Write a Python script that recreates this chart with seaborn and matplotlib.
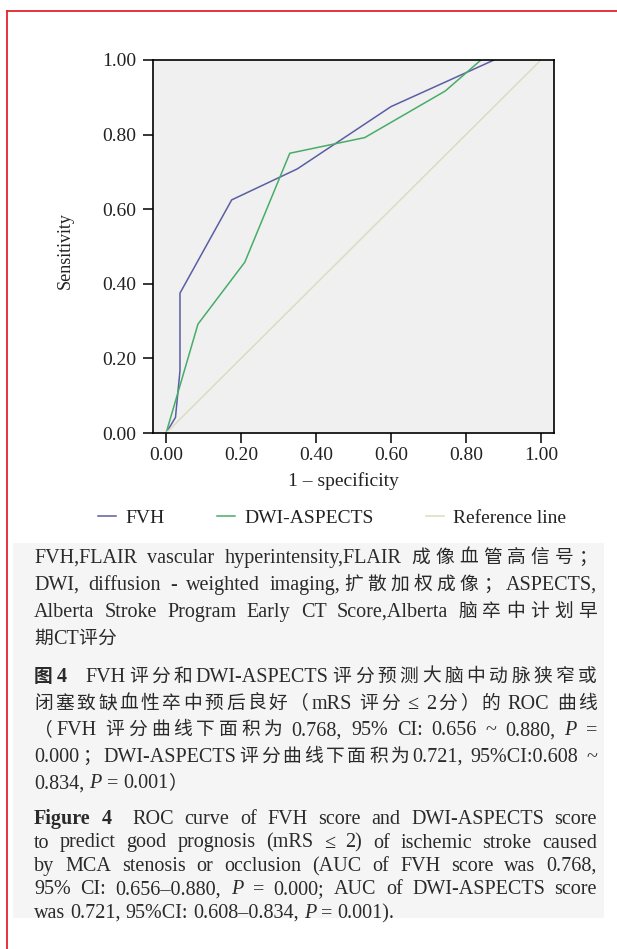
import re
import numpy as np
import pandas as pd
import matplotlib
matplotlib.use("Agg")
import matplotlib.pyplot as plt
import seaborn as sns
from matplotlib.lines import Line2D
from matplotlib.patches import Rectangle

# ---------------- data ----------------
fvh_x = [0.0, 0.025, 0.037, 0.037, 0.175, 0.35, 0.60, 0.875]
fvh_y = [0.0, 0.042, 0.167, 0.375, 0.625, 0.708, 0.875, 1.0]
dwi_x = [0.0, 0.085, 0.21, 0.33, 0.53, 0.745, 0.84]
dwi_y = [0.0, 0.292, 0.458, 0.75, 0.792, 0.917, 1.0]
ref_x = [0.0, 1.0]
ref_y = [0.0, 1.0]
series_names = ["FVH", "DWI-ASPECTS", "Reference line"]
tick_values = [0.0, 0.2, 0.4, 0.6, 0.8, 1.0]
tick_labels = ["0.00", "0.20", "0.40", "0.60", "0.80", "1.00"]
x_label = "1 – specificity"
y_label = "Sensitivity"

caption_abbrev = [
    "FVH,FLAIR vascular hyperintensity,FLAIR 成像血管高信号；",
    "DWI, diffusion - weighted imaging,扩散加权成像；ASPECTS,",
    "Alberta Stroke Program Early CT Score,Alberta 脑卒中计划早",
    "期CT评分",
]
caption_cn = [
    "**图4   FVH评分和DWI-ASPECTS评分预测大脑中动脉狭窄或",
    "闭塞致缺血性卒中预后良好（mRS 评分 ≤ 2分）的 ROC 曲线",
    "（FVH 评分曲线下面积为 0.768, 95% CI: 0.656 ~ 0.880, *P =",
    "0.000；DWI-ASPECTS评分曲线下面积为0.721, 95%CI:0.608 ~",
    "0.834, *P = 0.001）",
]
caption_en = [
    "**Figure **4   ROC curve of FVH score and DWI-ASPECTS score",
    "to predict good prognosis (mRS ≤ 2) of ischemic stroke caused",
    "by MCA stenosis or occlusion (AUC of FVH score was 0.768,",
    "95% CI: 0.656–0.880, *P = 0.000; AUC of DWI-ASPECTS score",
    "was 0.721, 95%CI: 0.608–0.834, *P = 0.001).",
]

# ---------------- styles ----------------
colors = ["#5a5ea4", "#46ad68", "#dcdcbf"]
FAM = ["Liberation Serif", "Noto Sans CJK SC", "DejaVu Sans"]
plt.rcParams["font.family"] = FAM
plt.rcParams["axes.unicode_minus"] = False

W, H = 617, 949
fig = plt.figure(figsize=(W / 100, H / 100), dpi=100)
fig.patch.set_facecolor("white")

# red border (top & left)
fig.add_artist(Line2D([7 / W, 1.0], [1 - 11 / H, 1 - 11 / H], color="#e3242b",
                      lw=1.3, transform=fig.transFigure))
fig.add_artist(Line2D([7 / W, 7 / W], [0.0, 1 - 11 / H], color="#e3242b",
                      lw=1.3, transform=fig.transFigure))

# caption background
fig.add_artist(Rectangle((13 / W, 1 - 918 / H), (604 - 13) / W, (918 - 543) / H,
                         transform=fig.transFigure, facecolor="#f5f5f5",
                         edgecolor="none", zorder=0))

# ---------------- chart ----------------
ax = fig.add_axes([153 / W, 1 - 433 / H, (554 - 153) / W, (433 - 60) / H])
ax.set_facecolor("#f0f0f0")

df = pd.concat([
    pd.DataFrame({"fpr": fvh_x, "tpr": fvh_y, "series": series_names[0]}),
    pd.DataFrame({"fpr": dwi_x, "tpr": dwi_y, "series": series_names[1]}),
    pd.DataFrame({"fpr": ref_x, "tpr": ref_y, "series": series_names[2]}),
], ignore_index=True)

sns.lineplot(data=df, x="fpr", y="tpr", hue="series", hue_order=series_names,
             palette=dict(zip(series_names, colors)), sort=False,
             estimator=None, linewidth=1.1, ax=ax)

ax.set_xlim(-0.035, 1.035)
ax.set_ylim(0, 1)
ax.set_xticks(tick_values)
ax.set_xticklabels(tick_labels)
ax.set_yticks(tick_values)
ax.set_yticklabels(tick_labels)
for s in ax.spines.values():
    s.set_color("black")
    s.set_linewidth(1.2)
ax.tick_params(direction="out", length=7, width=1.1, color="black",
               labelsize=14, labelcolor="#222222")
ax.tick_params(axis="x", pad=3)
ax.tick_params(axis="y", pad=5)

ax.set_xlabel(x_label, fontsize=14, color="#222222")
ax.xaxis.set_label_coords(0.474, -0.105)
ax.set_ylabel(y_label, fontsize=13, color="#222222")
ax.yaxis.set_label_coords(-0.197, 0.49)

handles, labels = ax.get_legend_handles_labels()
if ax.get_legend() is not None:
    ax.get_legend().remove()
ax.legend(handles, labels, ncol=3, loc="center",
          bbox_to_anchor=(332 / W, 1 - 518 / H), bbox_transform=fig.transFigure,
          frameon=False, fontsize=14, handlelength=0.95, handletextpad=0.45,
          columnspacing=2.7, labelcolor="#222222")

# ---------------- captions (justified) ----------------
CJK_RE = r"[\u2E80-\u9FFF\u3000-\u303F\uFF00-\uFFEF]"


def tokens_of(line):
    out = []
    spaces = 0
    for w in re.split(r"( +)", line):
        if not w:
            continue
        if w[0] == " ":
            spaces = len(w)
            continue
        style = "normal"
        if w.startswith("**"):
            style = "bold"
            w = w[2:]
        elif w.startswith("*"):
            style = "italic"
            w = w[1:]
        if not w:
            continue
        parts = re.findall(CJK_RE + "|(?:(?!" + CJK_RE + ").)+", w)
        for k, p in enumerate(parts):
            out.append((p, style, spaces if k == 0 else 0))
            spaces = 0
    return out


renderer = fig.canvas.get_renderer()


def draw_para(lines, base0, dy, size, size_cjk, x0=34, x1=597):
    spw = 0.25 * size * 100 / 72
    for i, line in enumerate(lines):
        toks = tokens_of(line)
        texts, widths = [], []
        for (s, st, sp) in toks:
            fs = size_cjk if re.fullmatch(CJK_RE, s) else size
            kw = dict(fontsize=fs, family=FAM, color="#2a2a2a")
            if st == "bold":
                kw["fontweight"] = "bold"
            if st == "italic":
                kw["fontstyle"] = "italic"
            t = fig.text(0, 0, s, ha="left", va="baseline", zorder=3, **kw)
            texts.append(t)
            widths.append(t.get_window_extent(renderer).width)
        nat = sum(widths) + sum(sp for _, _, sp in toks[1:]) * spw
        nb = len(toks) - 1
        last = i == len(lines) - 1
        extra = 0 if (last or nb == 0) else (x1 - x0 - nat) / nb
        x = x0
        for k, t in enumerate(texts):
            if k > 0:
                x += toks[k][2] * spw + extra
            t.set_position((x / W, 1 - (base0 + i * dy) / H))
            x += widths[k]


draw_para(caption_abbrev, 563, 27, 14.5, 13.5)
draw_para(caption_cn, 682, 26.6, 14.5, 13.5)
draw_para(caption_en, 824, 23.5, 14.5, 13.5)

fig.savefig("out.png", dpi=100)
